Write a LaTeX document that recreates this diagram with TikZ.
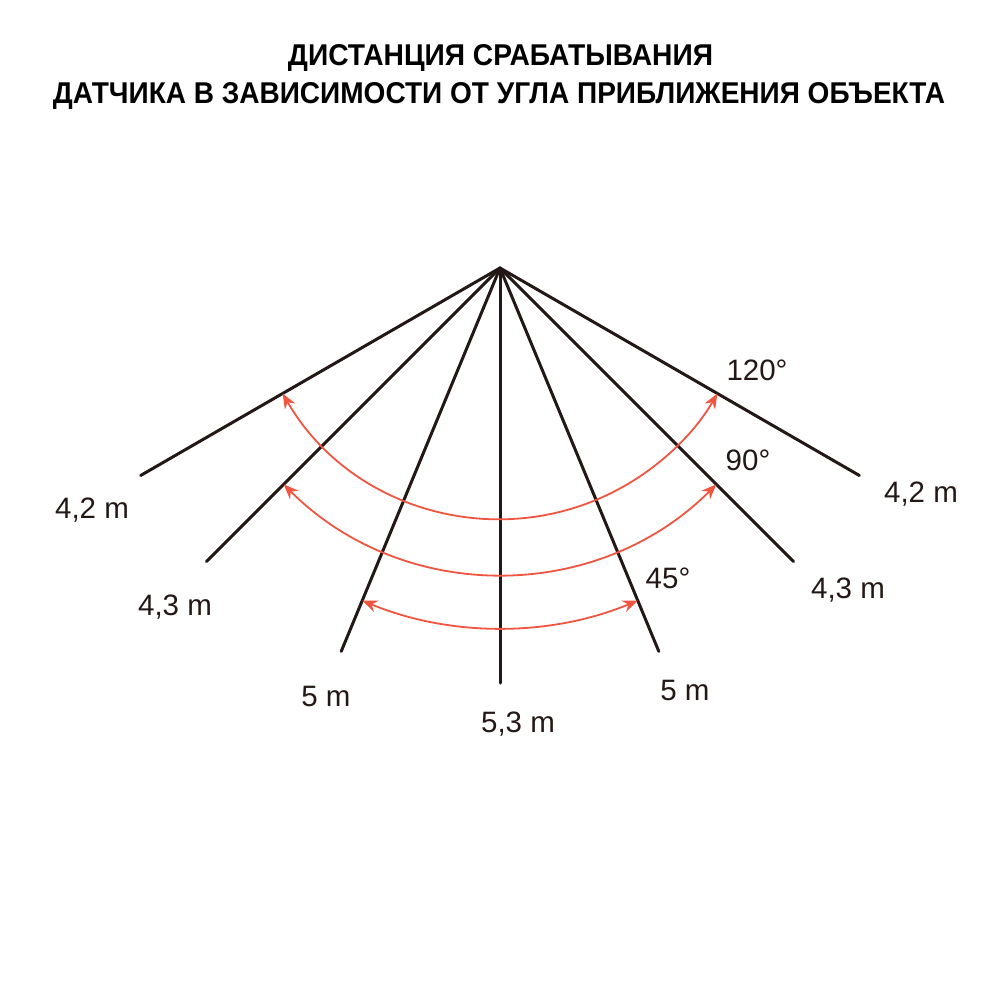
\documentclass[tikz,border=0pt]{standalone}
\usepackage{graphicx}
\usepackage{fontspec}
\setmainfont{Liberation Sans}
\usetikzlibrary{arrows.meta,calc}
\definecolor{ink}{HTML}{231815}
\definecolor{arrowred}{HTML}{F0553F}
\begin{document}
\begin{tikzpicture}[x=1pt,y=-1pt,
  ray/.style={draw=ink,line width=3pt,line cap=round},
  sweep/.style={draw=arrowred,line width=1.8pt,
    {Stealth[length=15pt,width=12pt]}-{Stealth[length=15pt,width=12pt]}},
  dist/.style={text=ink,font=\fontsize{29.5}{34}\selectfont,inner sep=0pt,anchor=base},
  titleline/.style={text=black,inner sep=0pt,anchor=base}]
\useasboundingbox (0,0) rectangle (1000,1000);
% title
\node[titleline] (title1) at (500.5,66) {\resizebox{425pt}{21pt}{\bfseries ДИСТАНЦИЯ СРАБАТЫВАНИЯ}};
\node[titleline] (title2) at (499,104) {\resizebox{892pt}{21pt}{\bfseries ДАТЧИКА В ЗАВИСИМОСТИ ОТ УГЛА ПРИБЛИЖЕНИЯ ОБЪЕКТА}};
% rays
\coordinate (apex) at (500,268);
\foreach \n/\a in {l1/150,l2/135,l3/112.5,c/90,r3/67.5,r2/45,r1/30}{
  \coordinate (\n) at ($(apex)+(\a:415)$);
  \draw[ray] (apex) -- (\n);
}
% angle arcs
\draw[sweep] ($(apex)+(150:251)$) arc[start angle=150,end angle=30,radius=251];
\draw[sweep] ($(apex)+(135:306)$) arc[start angle=135,end angle=45,radius=306];
\draw[sweep] ($(apex)+(112.5:360)$) arc[start angle=112.5,end angle=67.5,radius=360];
% distance labels
\node[dist] (dl1) at (92,518) {4,2 m};
\node[dist] (dl2) at (175,615) {4,3 m};
\node[dist] (dl3) at (326,706) {5 m};
\node[dist] (dc) at (518,732) {5,3 m};
\node[dist] (dr3) at (685,700) {5 m};
\node[dist] (dr2) at (848,598) {4,3 m};
\node[dist] (dr1) at (921,502) {4,2 m};
% angle labels
\node[dist] (a120) at (757,380) {120°};
\node[dist] (a90) at (748,470) {90°};
\node[dist] (a45) at (668,588) {45°};
\end{tikzpicture}
\end{document}
